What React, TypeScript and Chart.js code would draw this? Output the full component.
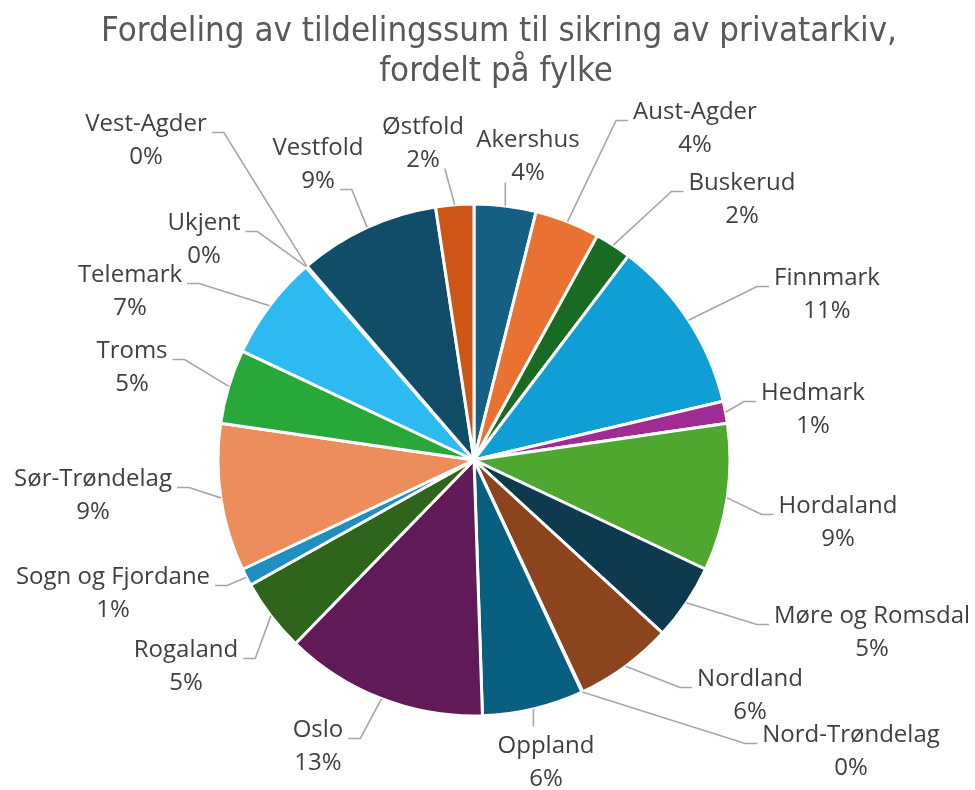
import React, { useEffect, useRef } from "react";
import { Chart, registerables } from "chart.js";

Chart.register(...registerables);

// ---------- data ----------
const categories = [
  "Akershus",
  "Aust-Agder",
  "Buskerud",
  "Finnmark",
  "Hedmark",
  "Hordaland",
  "Møre og Romsdal",
  "Nordland",
  "Nord-Trøndelag",
  "Oppland",
  "Oslo",
  "Rogaland",
  "Sogn og Fjordane",
  "Sør-Trøndelag",
  "Troms",
  "Telemark",
  "Ukjent",
  "Vest-Agder",
  "Vestfold",
  "Østfold",
];

// share of the total allocation (percent)
const shares = [
  3.9, 4.1, 2.3, 11.0, 1.4, 9.3, 4.8, 6.2, 0.05, 6.4, 12.8, 4.6, 1.1, 9.3, 4.7,
  6.6, 0.05, 0.05, 8.9, 2.4,
];

const sliceColors = [
  "#156082",
  "#E97132",
  "#196B24",
  "#0F9ED5",
  "#A02B93",
  "#4EA72E",
  "#0D3A4E",
  "#8C441E",
  "#0F4016",
  "#095F80",
  "#601A58",
  "#2F641C",
  "#1F8EC0",
  "#ED8D5B",
  "#27A839",
  "#2DBAF0",
  "#CB3DBB",
  "#68CC45",
  "#114D68",
  "#CD5516",
];

const titleLines = [
  "Fordeling av tildelingssum til sikring av privatarkiv,",
  "fordelt på fylke",
];

// ---------- layout of the outside data labels ----------
// offset of each label block's centre from the pie centre (px)
const labelOffsets: [number, number][] = [
  [54, -303],
  [221, -331],
  [268, -260],
  [353, -165],
  [339, -50],
  [364, 63],
  [398, 173],
  [276, 236],
  [377, 292],
  [72, 303],
  [-156, 287],
  [-288, 207],
  [-361, 134],
  [-381, 36],
  [-342, -92],
  [-344, -168],
  [-270, -220],
  [-328, -319],
  [-156, -295],
  [-51, -316],
];
// leader line: side it attaches to, which text line, elbow length
const leaderModes: [string, number, number][] = [
  ["B", 1, 0],
  ["L", 0, 12],
  ["L", 0, 12],
  ["L", 0, 12],
  ["L", 0, 12],
  ["L", 0, 12],
  ["L", 0, 12],
  ["L", 0, 12],
  ["L", 0, 12],
  ["T", 0, 0],
  ["R", 0, 12],
  ["R", 0, 12],
  ["R", 0, 12],
  ["R", 0, 12],
  ["R", 0, 12],
  ["R", 0, 12],
  ["R", 0, 12],
  ["R", 0, 12],
  ["R", 1, 12],
  ["R", 1, 0],
];

const LABEL_FONT = '24px "Open Sans", "Noto Sans", sans-serif';
const LINE_GAP = 33;
const TITLE_FAMILY = '"Liberation Sans Narrow", "DejaVu Sans Condensed", sans-serif';

const outsideLabels = {
  id: "outsideLabels",
  afterDatasetsDraw(chart: any) {
    const ctx: CanvasRenderingContext2D = chart.ctx;
    const meta = chart.getDatasetMeta(0);
    const total = shares.reduce((a, b) => a + b, 0);
    ctx.save();
    ctx.font = LABEL_FONT;
    meta.data.forEach((el: any, i: number) => {
      const p = el.getProps(["x", "y", "startAngle", "endAngle", "outerRadius"], true);
      const mid = (p.startAngle + p.endAngle) / 2;
      const sx = p.x + Math.cos(mid) * p.outerRadius;
      const sy = p.y + Math.sin(mid) * p.outerRadius;
      const cx = p.x + labelOffsets[i][0];
      const cy = p.y + labelOffsets[i][1];
      const lines = [categories[i], Math.round((shares[i] / total) * 100) + "%"];
      const ys = [cy - LINE_GAP / 2, cy + LINE_GAP / 2];
      const widths = lines.map((t) => ctx.measureText(t).width);
      const [mode, li, elbow] = leaderModes[i];

      ctx.strokeStyle = "#A6A6A6";
      ctx.lineWidth = 1.6;
      ctx.beginPath();
      ctx.moveTo(sx, sy);
      if (mode === "L" || mode === "R") {
        const ly = ys[li] + 8;
        const ex = mode === "L" ? cx - widths[li] / 2 - 5 : cx + widths[li] / 2 + 5;
        const bx = mode === "L" ? ex - elbow : ex + elbow;
        ctx.lineTo(bx, ly);
        ctx.lineTo(ex, ly);
      } else if (mode === "B") {
        ctx.lineTo(sx, ys[1] + 9);
      } else {
        ctx.lineTo(sx, ys[0] - 20);
      }
      ctx.stroke();

      ctx.fillStyle = "#404040";
      ctx.textAlign = "center";
      ctx.textBaseline = "middle";
      lines.forEach((t, k) => ctx.fillText(t, cx, ys[k]));
    });
    ctx.restore();
  },
};

const titlePlugin = {
  id: "customTitle",
  afterDraw(chart: any) {
    const ctx: CanvasRenderingContext2D = chart.ctx;
    ctx.save();
    const base = 34;
    ctx.font = `${base}px ${TITLE_FAMILY}`;
    const w = ctx.measureText(titleLines[0]).width;
    const size = Math.max(26, Math.min(44, (base * 796) / w));
    ctx.font = `${size}px ${TITLE_FAMILY}`;
    ctx.fillStyle = "#595959";
    ctx.textAlign = "center";
    ctx.textBaseline = "middle";
    ctx.fillText(titleLines[0], 499, 32);
    ctx.fillText(titleLines[1], 496, 72);
    ctx.restore();
  },
};

export default function App() {
  const ref = useRef<HTMLCanvasElement | null>(null);
  useEffect(() => {
    if (!ref.current) return;
    const chart = new Chart(ref.current, {
      type: "pie",
      data: {
        labels: categories,
        datasets: [
          {
            data: shares,
            backgroundColor: sliceColors,
            borderColor: "#FFFFFF",
            borderWidth: 3,
          },
        ],
      },
      options: {
        animation: false,
        responsive: true,
        maintainAspectRatio: false,
        radius: 256,
        layout: { padding: { left: 219, right: 246, top: 205, bottom: 75 } },
        plugins: {
          legend: { display: false },
          tooltip: { enabled: false },
          title: { display: false },
        },
      } as any,
      plugins: [outsideLabels, titlePlugin],
    });
    return () => chart.destroy();
  }, []);
  return (
    <div
      style={{
        position: "absolute",
        left: 0,
        top: 0,
        width: 975,
        height: 790,
        background: "#ffffff",
      }}
    >
      <canvas ref={ref} />
    </div>
  );
}
